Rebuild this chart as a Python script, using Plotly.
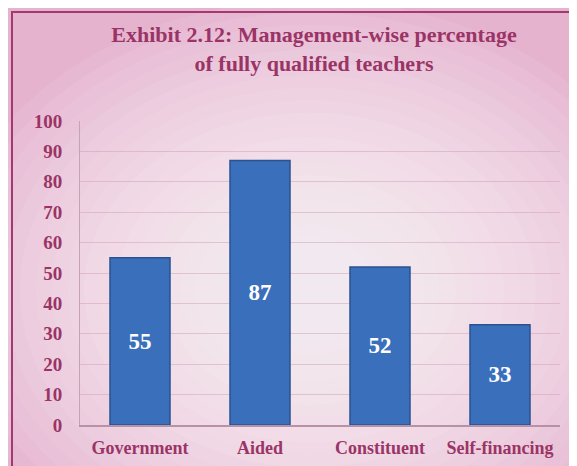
import plotly.graph_objects as go

categories = ["Government", "Aided", "Constituent", "Self-financing"]
values = [55, 87, 52, 33]
tick_vals = [0, 10, 20, 30, 40, 50, 60, 70, 80, 90, 100]
title_text = "Exhibit 2.12: Management-wise percentage<br>of fully qualified teachers"

# the page places the figure at (8, 8) inside the 577x466 window
OFF = 8
W, H = 577 - OFF, 466 - OFF
L, R, T, B = 80 - OFF, 17, 121 - OFF, 41
pw, ph = W - L - R, H - T - B

def px_x(x):
    return (x - OFF - L) / pw

def px_y(y):
    return (H - B - (y - OFF)) / ph

text_color = "#9b3466"
font_family = "Liberation Serif, Times New Roman, serif"

fig = go.Figure()
fig.add_trace(go.Bar(
    x=categories,
    y=values,
    text=[str(v) for v in values],
    textposition="inside",
    insidetextanchor="middle",
    textfont=dict(family=font_family, size=23, color="white", weight="bold"),
    marker=dict(color="#3a6fbc", line=dict(color="#2a5190", width=1.5)),
    width=0.5,
    hoverinfo="x+y",
))

shapes = []
# soft radial glow built from stacked translucent ellipses
cx, cy = 310, 290
n = 20
for i in range(n):
    f = 1 - i / n
    rx, ry = 50 + 320 * f, 40 + 250 * f
    shapes.append(dict(type="circle", xref="paper", yref="paper",
                       x0=px_x(cx - rx), x1=px_x(cx + rx),
                       y0=px_y(cy + ry), y1=px_y(cy - ry),
                       fillcolor="rgba(255,255,255,0.07)", line=dict(width=0),
                       layer="below"))
shapes.append(dict(type="rect", xref="paper", yref="paper",
                   x0=px_x(12), x1=px_x(800), y0=px_y(12), y1=px_y(800),
                   line=dict(color="#a23a6e", width=2), fillcolor="rgba(0,0,0,0)", layer="above"))

fig.update_layout(
    width=W, height=H,
    margin=dict(l=L, r=R, t=T, b=B, autoexpand=False),
    paper_bgcolor="#e6b3cf",
    plot_bgcolor="rgba(0,0,0,0)",
    title=dict(text=title_text,
               x=(314 - OFF) / W, xanchor="center",
               y=1 - 34 / H, yanchor="top",
               font=dict(family=font_family, size=22, color=text_color, weight="bold")),
    showlegend=False,
    bargap=0.5,
    shapes=shapes,
    xaxis=dict(
        tickfont=dict(family=font_family, size=18, color=text_color, weight="bold"),
        showline=True, linecolor="#b792a7", linewidth=1.5,
        ticks="", automargin=False, ticklabelstandoff=6,
    ),
    yaxis=dict(
        range=[0, 100], tickvals=tick_vals,
        tickfont=dict(family=font_family, size=19, color=text_color, weight="bold"),
        showgrid=True, gridcolor="rgba(205,150,182,0.45)", gridwidth=1,
        showline=True, linecolor="#c3a3b5", linewidth=1,
        zeroline=False, ticks="", ticklabelstandoff=13, automargin=False,
    ),
)

fig.write_html("out.html")
